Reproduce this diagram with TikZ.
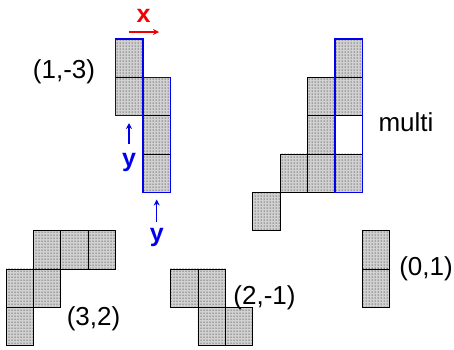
\documentclass[tikz,border=0pt]{standalone}
\usepackage{fontspec}
\setmainfont{Liberation Sans}
\usetikzlibrary{patterns,arrows.meta}
\definecolor{myblue}{RGB}{0,0,235}
\definecolor{myred}{RGB}{240,0,0}
\tikzset{
  cellst/.style={draw=black,line width=0.8pt,preaction={fill=black!18},pattern=dots,pattern color=black},
  blueout/.style={draw=myblue,line width=1.5pt},
  lbl/.style={font=\fontsize{26}{28}\selectfont,anchor=base,inner sep=0pt},
  axlbl/.style={font=\fontsize{25}{28}\selectfont\bfseries,anchor=base,inner sep=0pt},
  axarrow/.style={line width=1.4pt,-{Stealth[length=6pt,width=6pt]}}
}
\newcommand{\cellat}[2]{\draw[cellst] ({6+27.42*#1},{39+38.33*#2}) rectangle ++(27.42,38.33);}
\newcommand{\blueat}[3]{\draw[blueout] ({6+27.42*#1},{39+38.33*#2}) rectangle ({6+27.42*(#1+1)},{39+38.33*(#3+1)});}
\begin{document}
\begin{tikzpicture}[x=1pt,y=-1pt]
\useasboundingbox (0,0) rectangle (454,349);
% (1,-3)
\cellat{4}{0}\cellat{4}{1}\cellat{5}{1}\cellat{5}{2}\cellat{5}{3}
\blueat{4}{0}{1}\blueat{5}{1}{3}
% multi
\cellat{12}{0}\cellat{12}{1}\cellat{12}{3}
\cellat{11}{1}\cellat{11}{2}\cellat{11}{3}
\cellat{10}{3}\cellat{9}{4}
\blueat{12}{0}{3}
% (3,2)
\cellat{1}{5}\cellat{2}{5}\cellat{3}{5}\cellat{0}{6}\cellat{1}{6}\cellat{0}{7}
% (2,-1)
\cellat{6}{6}\cellat{7}{6}\cellat{7}{7}\cellat{8}{7}
% (0,1)
\cellat{13}{5}\cellat{13}{6}
% labels
\node[lbl] (l13) at (64,78) {(1,-3)};
\node[lbl] (lmulti) at (406,131) {multi};
\node[lbl] (l32) at (93.5,325) {(3,2)};
\node[lbl] (l21) at (264.5,304.5) {(2,-1)};
\node[lbl] (l01) at (426,275.5) {(0,1)};
% axes
\node[axlbl,text=myred] (xl) at (143.5,22) {x};
\coordinate (xa) at (129,32); \coordinate (xb) at (159,32);
\draw[axarrow,myred] (xa) -- (xb);
\node[axlbl,text=myblue] (y1) at (129,166) {y};
\coordinate (y1a) at (129,144); \coordinate (y1b) at (129,123);
\draw[axarrow,myblue] (y1a) -- (y1b);
\node[axlbl,text=myblue] (y2) at (156.7,241.5) {y};
\coordinate (y2a) at (156.7,221.5); \coordinate (y2b) at (156.7,199.5);
\draw[axarrow,myblue] (y2a) -- (y2b);
\end{tikzpicture}
\end{document}
